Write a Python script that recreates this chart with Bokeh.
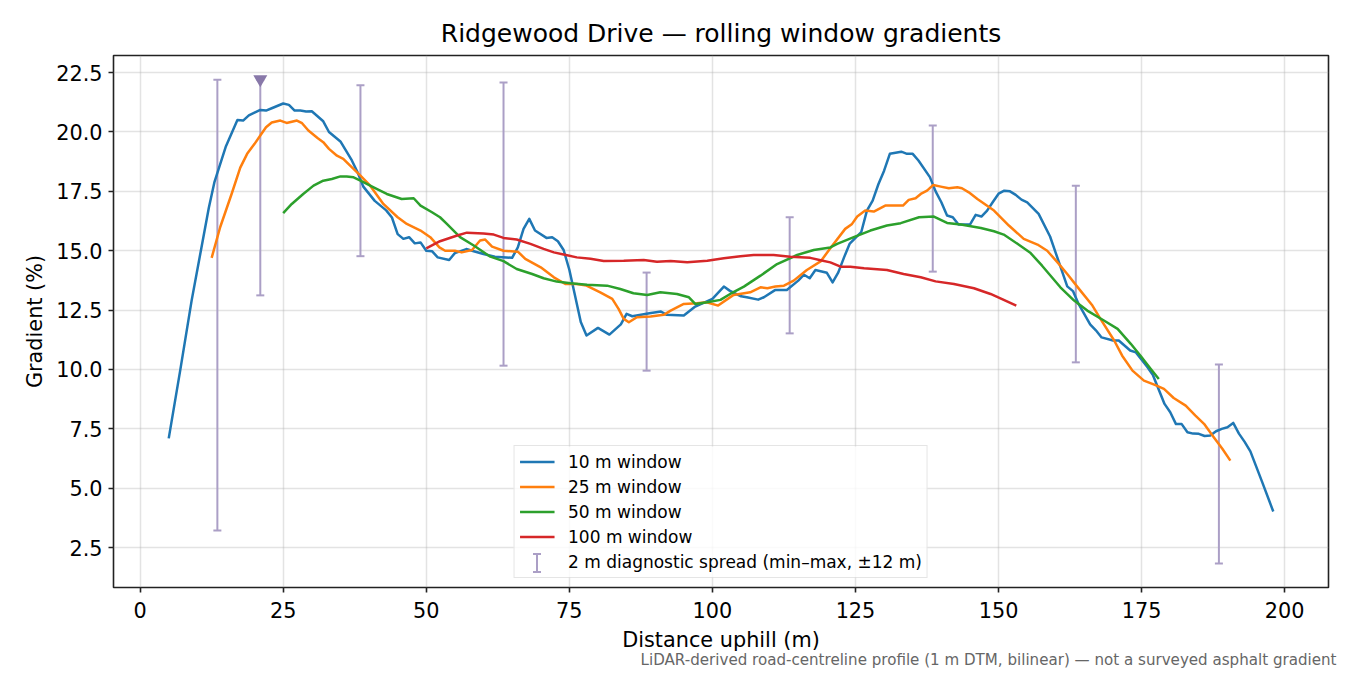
from bokeh.plotting import figure
from bokeh.models import (Range1d, FixedTicker, PrintfTickFormatter, Title, Legend, LegendItem,
                          BoxAnnotation)
from bokeh.embed import file_html
from bokeh.resources import INLINE

FONT = "DejaVu Sans"

# rolling window gradients (%)
w10_x = [5, 7, 9, 12, 13, 15, 17, 18, 19, 21, 22, 23, 25, 26, 27, 28, 29, 30, 32, 33,
         35, 36, 37, 38, 39, 41, 42, 43, 44, 45, 46, 47, 48, 49, 50, 51, 52, 54, 55, 57,
         58, 60, 62, 65, 66, 67, 68, 69, 71, 72, 73, 74, 75, 76, 77, 78, 80, 82, 84, 85,
         86, 89, 91, 92, 95, 97, 100, 102, 103, 105, 106, 108, 109, 111, 113, 115, 116, 117, 118, 120,
         121, 122, 123, 124, 126, 127, 128, 129, 130, 131, 133, 134, 135, 136, 138, 139, 140, 141, 142, 143,
         145, 146, 147, 148, 149, 150, 151, 152, 153, 154, 155, 157, 159, 160, 162, 163, 164, 166, 167, 168,
         170, 171, 173, 174, 176, 177, 179, 180, 181, 182, 183, 184, 185, 186, 187, 188, 189, 190, 191, 192,
         193, 194, 196, 198]
w10_y = [7.1, 9.95, 12.9, 16.8, 17.9, 19.4, 20.5, 20.48, 20.7, 20.93, 20.9, 21.0, 21.2, 21.14, 20.9, 20.9, 20.86, 20.87, 20.45, 20.0,
         19.6, 19.2, 18.8, 18.3, 17.7, 17.1, 16.9, 16.7, 16.4, 15.7, 15.5, 15.57, 15.31, 15.35, 15.0, 14.98, 14.72, 14.61, 14.9, 15.07,
         15.0, 14.86, 14.75, 14.7, 15.14, 15.92, 16.34, 15.85, 15.54, 15.57, 15.4, 15.03, 14.2, 13.1, 12.0, 11.43, 11.75, 11.47, 11.9, 12.34,
         12.24, 12.37, 12.44, 12.3, 12.27, 12.65, 12.97, 13.49, 13.32, 13.08, 13.04, 12.94, 13.04, 13.35, 13.35, 13.74, 13.99, 13.84, 14.19, 14.07,
         13.67, 14.09, 14.72, 15.3, 15.78, 16.69, 17.11, 17.8, 18.37, 19.08, 19.17, 19.08, 19.08, 18.8, 18.1, 17.5, 17.04, 16.48, 16.41, 16.1,
         16.1, 16.51, 16.44, 16.69, 17.05, 17.4, 17.53, 17.5, 17.35, 17.15, 17.04, 16.55, 15.6, 14.9, 13.5, 13.3, 12.75, 11.9, 11.65, 11.35,
         11.22, 11.22, 10.8, 10.72, 10.1, 9.75, 8.55, 8.2, 7.7, 7.7, 7.36, 7.3, 7.29, 7.2, 7.22, 7.4, 7.5, 7.57, 7.75, 7.3,
         6.95, 6.55, 5.3, 4.02]

w25_x = [12.5, 14, 16, 17.5, 18.7, 20, 21, 22, 23, 24.5, 25.6, 27.4, 28.3, 29.4, 31, 32, 33, 34.4, 35.5, 36.7,
         38.5, 40.2, 42.5, 45, 46.6, 49, 50.7, 52.3, 53.3, 55, 56.2, 58, 59.4, 60.3, 61.5, 63.5, 66, 67.3, 70, 72.3,
         74.3, 76.3, 78, 80.4, 82.5, 83.6, 84.5, 85.4, 86.8, 89.2, 91.5, 92.7, 95, 97.3, 99, 101, 103.7, 106.6, 108.4, 109.6,
         111, 112.5, 114.2, 116.5, 118.9, 120.6, 123.2, 124.4, 125.3, 126.7, 128.2, 130.2, 133.3, 134.3, 135.5, 136.4, 137.5, 138.6, 139.9, 141.3,
         142.8, 143.6, 144.8, 146.3, 149.2, 151.8, 154.4, 156.8, 158.5, 160.3, 162, 164.3, 166.4, 167.8, 170.2, 171.6, 173.4, 175.4, 177.2, 178.9,
         180.6, 182.7, 184.4, 185.9, 187.6, 189.1, 190.5]
w25_y = [14.7, 16.0, 17.4, 18.5, 19.08, 19.5, 19.85, 20.2, 20.4, 20.48, 20.38, 20.48, 20.37, 20.06, 19.75, 19.57, 19.29, 19.0, 18.87, 18.58,
         18.16, 17.74, 16.97, 16.41, 16.13, 15.85, 15.57, 15.14, 15.0, 15.0, 14.93, 15.03, 15.43, 15.47, 15.17, 15.0, 14.96, 14.66, 14.3, 13.88,
         13.6, 13.6, 13.53, 13.25, 12.97, 12.55, 12.13, 11.99, 12.2, 12.23, 12.3, 12.48, 12.76, 12.79, 12.83, 12.69, 13.14, 13.25, 13.46, 13.42,
         13.49, 13.53, 13.74, 14.19, 14.55, 15.1, 15.92, 16.13, 16.44, 16.69, 16.65, 16.9, 16.9, 17.14, 17.21, 17.39, 17.53, 17.77, 17.7, 17.63,
         17.67, 17.63, 17.46, 17.18, 16.69, 16.06, 15.5, 15.26, 15.0, 14.51, 14.02, 13.32, 12.69, 12.13, 11.22, 10.58, 9.95, 9.53, 9.36, 9.18,
         8.8, 8.48, 8.06, 7.71, 7.15, 6.66, 6.16]

w50_x = [25, 26.5, 28.5, 30.3, 32, 33.5, 35, 36.1, 37.3, 38.5, 40.8, 43.1, 45.7, 47.8, 49, 51, 52.4, 53.6, 55.9, 58.3,
         61.2, 63.5, 65.8, 68.5, 70.5, 72.8, 75.2, 78.1, 81.6, 83.9, 86.2, 88.6, 90.9, 93.8, 95.9, 97, 99.1, 101.4, 103.1, 105.5,
         108.4, 111.3, 114.8, 117.7, 120.6, 121.8, 124.7, 127.6, 130.5, 132.9, 136.1, 138.7, 141, 143.4, 146.9, 149.2, 150.9, 153.3, 155.6, 157.6,
         160.8, 163.2, 165.5, 168.4, 170.8, 173.1, 174.8, 176.6, 178]
w50_y = [16.58, 16.97, 17.39, 17.74, 17.95, 18.02, 18.13, 18.13, 18.09, 17.95, 17.67, 17.39, 17.18, 17.21, 16.9, 16.62, 16.41, 16.13, 15.57, 15.22,
         14.75, 14.56, 14.23, 14.02, 13.84, 13.7, 13.63, 13.57, 13.53, 13.39, 13.21, 13.14, 13.25, 13.18, 13.04, 12.76, 12.83, 12.93, 13.18, 13.49,
         13.95, 14.44, 14.82, 15.03, 15.14, 15.29, 15.57, 15.85, 16.06, 16.16, 16.41, 16.44, 16.17, 16.1, 15.96, 15.82, 15.68, 15.29, 14.9, 14.37,
         13.46, 12.9, 12.48, 12.06, 11.71, 11.08, 10.58, 10.02, 9.6]

w100_x = [50, 52.4, 55.4, 57.1, 60, 61.8, 63.5, 65.8, 68.2, 70.5, 72.3, 74, 76.3, 78.7, 81, 84.5, 88, 90.3, 92.7, 95.6,
          99.1, 102, 104.9, 107.2, 110.7, 113.6, 117.1, 118.9, 120.6, 122.4, 124.1, 126.5, 130.5, 133.4, 136.4, 139, 142.2, 145.7, 148.6, 150.9,
          153.1]
w100_y = [15.1, 15.4, 15.64, 15.76, 15.73, 15.68, 15.54, 15.47, 15.29, 15.08, 14.93, 14.84, 14.72, 14.66, 14.57, 14.58, 14.61, 14.54, 14.57, 14.51,
          14.58, 14.68, 14.77, 14.82, 14.82, 14.75, 14.7, 14.6, 14.51, 14.33, 14.33, 14.26, 14.19, 14.02, 13.88, 13.71, 13.6, 13.42, 13.18, 12.93,
          12.69]

# 2 m diagnostic spread (min-max within +-12 m)
spread_x = [13.5, 21, 38.5, 63.5, 88.5, 113.5, 138.5, 163.5, 188.5]
spread_lo = [3.22, 13.12, 14.77, 10.16, 9.95, 11.52, 14.12, 10.3, 1.83]
spread_hi = [22.2, 22.2, 21.97, 22.08, 14.08, 16.41, 20.27, 17.74, 10.21]
peak_x = [21]
peak_y = [22.22]

x_ticks = [0, 25, 50, 75, 100, 125, 150, 175, 200]
y_ticks = [2.5, 5.0, 7.5, 10.0, 12.5, 15.0, 17.5, 20.0, 22.5]

SPREAD = "#ab9fc6"

p = figure(width=1342, height=675, x_range=Range1d(-4.65, 207.65), y_range=Range1d(0.82, 23.22),
           output_backend="svg", toolbar_location=None, tools="",
           min_border_left=113, min_border_right=14, min_border_top=55, min_border_bottom=88)

p.title.text = "Ridgewood Drive \u2014 rolling window gradients"
p.title.align = "center"
p.title.text_font = FONT
p.title.text_font_size = "25px"
p.title.text_font_style = "normal"
p.title.text_color = "#000000"
p.title.standoff = 15

p.outline_line_color = "#222222"
p.outline_line_width = 1.6
p.grid.grid_line_color = "#b0b0b0"
p.grid.grid_line_alpha = 0.35
p.grid.grid_line_width = 1.5

p.xaxis.ticker = FixedTicker(ticks=x_ticks)
p.yaxis.ticker = FixedTicker(ticks=y_ticks)
p.yaxis.formatter = PrintfTickFormatter(format="%.1f")
p.xaxis.axis_label = "Distance uphill (m)"
p.yaxis.axis_label = "Gradient (%)"
p.axis.axis_line_color = None
p.axis.major_tick_line_color = "#222222"
p.axis.major_tick_line_width = 1.6
p.axis.major_tick_out = 5
p.axis.major_tick_in = 0
p.axis.minor_tick_line_color = None
p.axis.major_label_text_font = FONT
p.axis.major_label_text_font_size = "20.8px"
p.axis.major_label_text_color = "#000000"
p.xaxis.major_label_standoff = 9
p.yaxis.major_label_standoff = 6
p.axis.axis_label_text_font = FONT
p.axis.axis_label_text_font_size = "20.8px"
p.axis.axis_label_text_font_style = "normal"
p.axis.axis_label_text_color = "#000000"
p.xaxis.axis_label_standoff = 7
p.yaxis.axis_label_standoff = 6

# translucent legend backdrop sits under the glyphs, so the legend itself stays transparent
p.add_layout(BoxAnnotation(left=65.24, right=137.58, bottom=1.24, top=6.76, fill_color="white",
                           fill_alpha=0.8, line_color=None, level="underlay"))

# spread bars go underneath the lines
p.segment(x0=spread_x, y0=spread_lo, x1=spread_x, y1=spread_hi, line_color=SPREAD, line_width=2)
p.scatter(x=spread_x + spread_x, y=spread_lo + spread_hi, marker="dash", size=8,
          line_color=SPREAD, line_width=2)
p.scatter(x=peak_x, y=peak_y, marker="inverted_triangle", size=14, fill_color="#8878a9", line_color=None)

r10 = p.line(w10_x, w10_y, line_color="#1f77b4", line_width=2.5, line_join="round")
r25 = p.line(w25_x, w25_y, line_color="#ff7f0e", line_width=2.5, line_join="round")
r50 = p.line(w50_x, w50_y, line_color="#2ca02c", line_width=2.5, line_join="round")
r100 = p.line(w100_x, w100_y, line_color="#d62728", line_width=2.5, line_join="round")
# empty slot for the spread entry; its "I" icon is drawn as glyphs below
rsp = p.scatter(x=[-100], y=[-100], marker="dash", size=1, line_alpha=0, fill_alpha=0)

# legend icon for the spread bars, in data units of the legend slot
icon_x = [69.35]
icon_lo = [1.47]
icon_hi = [2.23]
p.segment(x0=icon_x, y0=icon_lo, x1=icon_x, y1=icon_hi, line_color=SPREAD, line_width=2)
p.scatter(x=icon_x + icon_x, y=icon_lo + icon_hi, marker="dash", size=8, line_color=SPREAD,
          line_width=2)

legend = Legend(items=[
    LegendItem(label="10 m window", renderers=[r10]),
    LegendItem(label="25 m window", renderers=[r25]),
    LegendItem(label="50 m window", renderers=[r50]),
    LegendItem(label="100 m window", renderers=[r100]),
    LegendItem(label="2 m diagnostic spread (min\u2013max, \u00b112 m)", renderers=[rsp]),
], location="bottom_center")
legend.label_text_font = FONT
legend.label_text_font_size = "17px"
legend.label_text_color = "#000000"
legend.border_line_color = "#cccccc"
legend.border_line_width = 1.5
legend.background_fill_alpha = 0
legend.padding = 5
legend.spacing = 4
legend.glyph_width = 35
legend.glyph_height = 21
legend.label_height = 21
legend.label_standoff = 14
legend.margin = 9
p.add_layout(legend, "center")

note = Title(text="LiDAR-derived road-centreline profile (1 m DTM, bilinear) \u2014 not a surveyed asphalt gradient",
             align="right", text_font=FONT, text_font_size="15.1px", text_color="#666666",
             text_font_style="normal", offset=-8, standoff=-12)
p.add_layout(note, "below")

open("out.html", "w").write(file_html(p, INLINE))
